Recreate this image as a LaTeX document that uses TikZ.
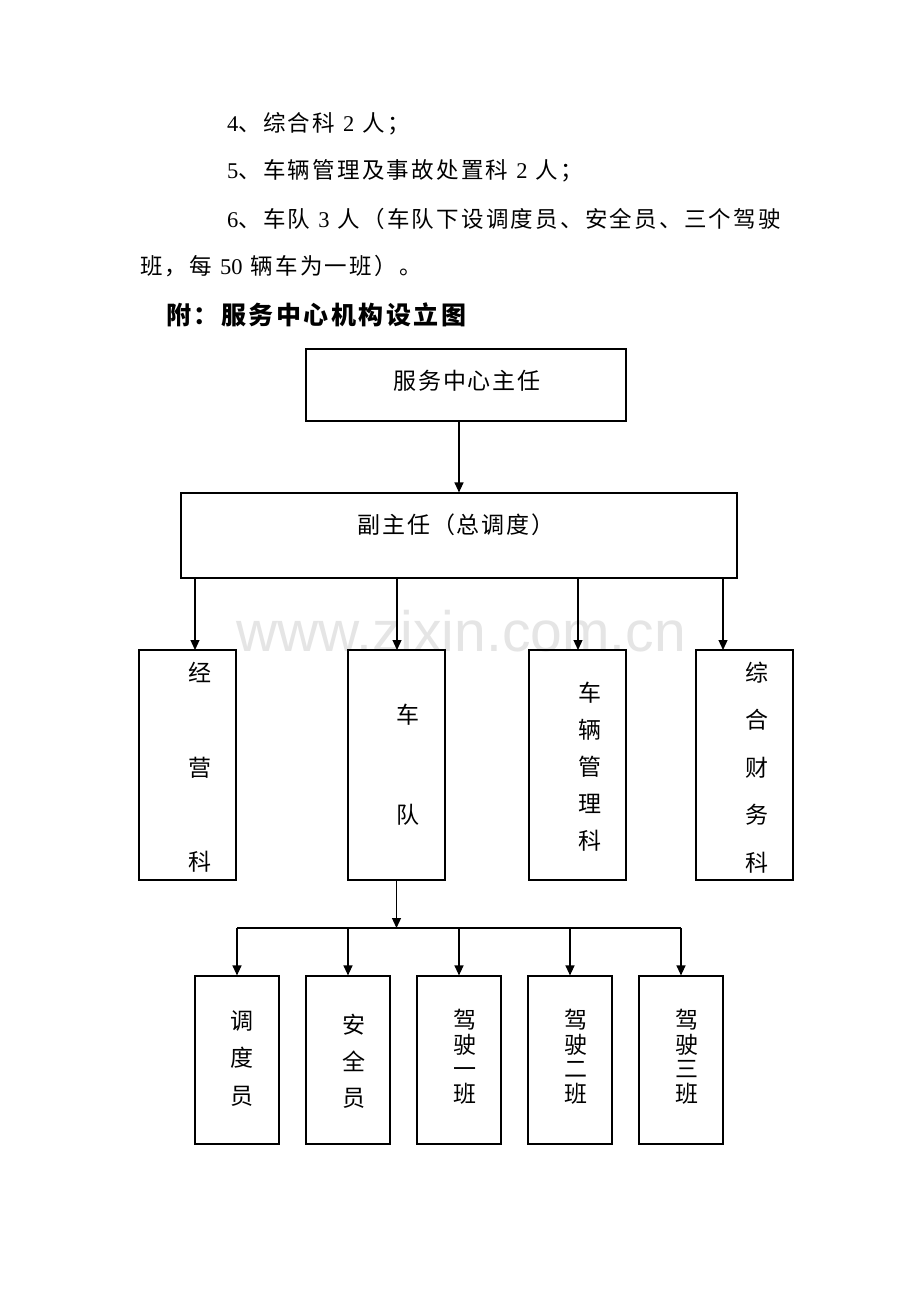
\documentclass[tikz,border=0pt]{standalone}
\usepackage{fontspec}
\setmainfont{Liberation Serif}
\newfontfamily\cjk[LetterSpace=10]{Noto Sans CJK SC}
\newfontfamily\cjkt[LetterSpace=8]{Noto Sans CJK SC}
\newfontfamily\cjkh[LetterSpace=10]{Noto Sans CJK SC}
\newfontfamily\cjkv{Noto Sans CJK SC}
\newfontfamily\wmfont{Liberation Sans}
\usetikzlibrary{arrows.meta}
\newcommand\dg[1]{{\rmfamily #1}}
\newcommand\gap{\hspace{8pt}}
\tikzset{
  box/.style={draw, line width=1.2pt, inner sep=0pt},
  arr/.style={line width=1.2pt, -{Triangle[length=10pt,width=9pt]}},
  plain/.style={line width=1.2pt},
  para/.style={anchor=base west, inner sep=0pt, font=\cjk\fontsize{22.5}{24}\selectfont},
  head/.style={anchor=base west, inner sep=0pt, font=\cjkh\bfseries\fontsize{25}{25}\selectfont},
  title/.style={inner sep=0pt, font=\cjkt\fontsize{23}{24}\selectfont},
  vt/.style={inner sep=0pt, align=center, font=\cjkv\fontsize{23}{#1}\selectfont},
}
\begin{document}
\begin{tikzpicture}[x=1pt,y=-1pt]
\useasboundingbox (0,0) rectangle (920,1302);
\fill[white] (0,0) rectangle (920,1302);

% watermark
\node[font=\wmfont\fontsize{57}{57}\selectfont, text=black!10, anchor=base, inner sep=0pt] (wm) at (461,651) {www.zixin.com.cn};

% paragraph text
\node[para] (l1) at (227,131.5) {\dg{4}、综合科\gap\dg{2}\gap 人；};
\node[para] (l2) at (227,178.5) {\dg{5}、车辆管理及事故处置科\gap\dg{2}\gap 人；};
\node[para] (l3) at (227,227.5) {\dg{6}、车队\gap\dg{3}\gap 人（车队下设调度员、安全员、三个驾驶};
\node[para] (l4) at (140,274.5) {班，每\gap\dg{50}\gap 辆车为一班）。};
\node[head] (hd) at (166,324) {附：服务中心机构设立图};

% top boxes
\node[box, minimum width=320, minimum height=72] (zr) at (466,385) {};
\node[title] (zrt) at (467,381) {服务中心主任};
\node[box, minimum width=556, minimum height=85] (fzr) at (459,535.5) {};
\node[title] (fzrt) at (456,525) {副主任（总调度）};
\draw[arr] (zr.south -| 459,0) -- (fzr.north -| 459,0);

% second row
\node[box, minimum width=97, minimum height=230] (jy) at (187.5,765) {};
\node[box, minimum width=97, minimum height=230] (cd) at (396.5,765) {};
\node[box, minimum width=97, minimum height=230] (gl) at (577.5,765) {};
\node[box, minimum width=97, minimum height=230] (zh) at (744.5,765) {};
\coordinate (jyin) at (195,650);
\coordinate (cdin) at (397,650);
\coordinate (glin) at (578,650);
\coordinate (zhin) at (723,650);
\foreach \c in {jyin,cdin,glin,zhin} \draw[arr] (fzr.south -| \c) -- (\c);

\node[vt=94.5] (jyt) at (200,767.5) {经\\营\\科};
\node[vt=100] (cdt) at (407.5,765) {车\\队};
\node[vt=37] (glt) at (590,767) {车\\辆\\管\\理\\科};
\node[vt=47.5] (zht) at (757,767.5) {综\\合\\财\\务\\科};

% third row
\node[box, minimum width=84, minimum height=168] (b1) at (237,1060) {};
\node[box, minimum width=84, minimum height=168] (b2) at (348,1060) {};
\node[box, minimum width=84, minimum height=168] (b3) at (459,1060) {};
\node[box, minimum width=84, minimum height=168] (b4) at (570,1060) {};
\node[box, minimum width=84, minimum height=168] (b5) at (681,1060) {};
\coordinate (bus) at (396.5,928);
\draw[arr] (cd.south) -- (bus);
\draw[plain] (b1.north |- bus) -- (b5.north |- bus);
\foreach \b in {b1,b2,b3,b4,b5} \draw[arr] (\b.north |- bus) -- (\b.north);

\node[vt=37.5] (b1t) at (242,1058.5) {调\\度\\员};
\node[vt=36.5] (b2t) at (353.5,1061.5) {安\\全\\员};
\node[vt=24.5] (b3t) at (465,1057) {驾\\驶\\一\\班};
\node[vt=24.5] (b4t) at (576,1057) {驾\\驶\\二\\班};
\node[vt=24.5] (b5t) at (686.5,1057) {驾\\驶\\三\\班};
\end{tikzpicture}
\end{document}
